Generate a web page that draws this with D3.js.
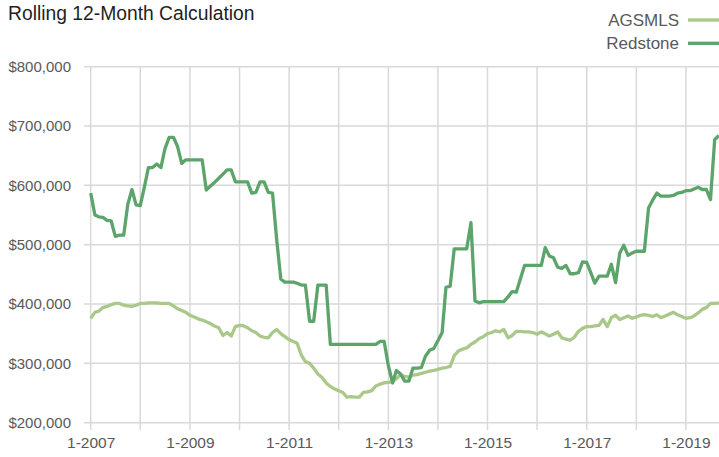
<!DOCTYPE html>
<html>
<head>
<meta charset="utf-8">
<script src="https://cdn.jsdelivr.net/npm/d3@7"></script>
<style>
  body { margin: 0; background: #fff; }
  svg { display: block; font-family: "Liberation Sans", Arial, sans-serif; }
  .grid line { stroke: #d9d9d9; stroke-width: 1.5; }
  .axis text { fill: #595959; font-size: 15px; }
  .x.axis text { font-size: 15.5px; }
</style>
</head>
<body>
<svg width="719" height="457"></svg>
<script>
// monthly values, Jan 2007 .. Sep 2019, in $ thousands
var firstMonth = new Date(2007, 0, 1);
var seriesNames = ["AGSMLS", "Redstone"];
var seriesColors = ["#a9c88a", "#5ca46a"];

var agsmls = [
  376, 386, 388, 394, 396, 399, 401, 401, 398, 397,
  396, 398, 401, 401, 402, 402, 402, 401, 401, 401,
  397, 392, 389, 386, 381, 378, 375, 373, 370, 367,
  363, 360, 347, 352, 346, 362, 364, 363, 360, 355,
  352, 346, 344, 343, 352, 357, 350, 345, 340, 337,
  334, 314, 303, 300, 292, 282, 276, 267, 261, 257,
  254, 251, 243, 244, 243, 243, 251, 252, 254, 262,
  265, 267, 268, 269, 274, 281, 278, 277, 280, 281,
  283, 285, 287, 288, 290, 292, 293, 295, 313, 321,
  324, 326, 332, 336, 342, 345, 350, 352, 355, 353,
  357, 343, 347, 354, 354, 353, 353, 352, 349, 353,
  350, 346, 349, 353, 343, 341, 339, 344, 354, 359,
  362, 362, 363, 364, 374, 362, 377, 381, 374, 377,
  380, 376, 378, 381, 382, 381, 379, 382, 377, 380,
  383, 386, 382, 379, 376, 377, 380, 385, 391, 394,
  401, 401, 402
];

var redstone = [
  587, 550, 547, 546, 541, 540, 514, 516, 516, 568,
  593, 567, 566, 598, 630, 630, 636, 630, 662, 681,
  681, 666, 637, 643, 643, 643, 643, 643, 592, 599,
  605, 612, 619, 626, 626, 606, 606, 606, 606, 587,
  588, 606, 606, 588, 587, 510, 442, 437, 437, 437,
  435, 432, 432, 371, 371, 432, 432, 432, 332, 332,
  332, 332, 332, 332, 332, 332, 332, 332, 332, 332,
  337, 337, 296, 267, 288, 282, 270, 270, 292, 292,
  293, 312, 322, 325, 338, 352, 428, 430, 493, 493,
  493, 493, 537, 405, 402, 404, 404, 404, 404, 404,
  404, 412, 421, 420, 443, 465, 465, 465, 465, 465,
  495, 481, 478, 462, 460, 465, 451, 451, 453, 471,
  470, 452, 435, 447, 447, 447, 467, 436, 486, 499,
  482, 486, 489, 489, 489, 562, 575, 587, 582, 582,
  582, 583, 587, 588, 591, 591, 594, 597, 593, 593,
  576, 677, 684
];

var yTicks = [200000, 300000, 400000, 500000, 600000, 700000, 800000];
var labelYears = [2007, 2009, 2011, 2013, 2015, 2017, 2019];

var svg = d3.select("svg");

var x = d3.scaleTime()
    .domain([firstMonth, d3.timeMonth.offset(firstMonth, agsmls.length - 1)])
    .range([90.7, 718.9]);
var y = d3.scaleLinear().domain([200000, 800000]).range([422.7, 66.7]);

var yearTicks = d3.timeYear.range(new Date(2007, 0, 1), new Date(2019, 1, 1));

// grid
var grid = svg.append("g").attr("class", "grid");
grid.selectAll(".h").data(yTicks).enter().append("line")
    .attr("x1", 84).attr("x2", 719)
    .attr("y1", function(d) { return y(d); })
    .attr("y2", function(d) { return y(d); });
grid.selectAll(".v").data(yearTicks).enter().append("line")
    .attr("x1", function(d) { return x(d); })
    .attr("x2", function(d) { return x(d); })
    .attr("y1", y(800000)).attr("y2", 430);

// axes labels
var yAxis = d3.axisLeft(y).tickValues(yTicks).tickSize(0).tickPadding(0)
    .tickFormat(function(d) { return "$" + d3.format(",")(d); });
svg.append("g").attr("class", "y axis").attr("transform", "translate(71,0)")
    .call(yAxis).call(function(g) { g.select(".domain").remove(); });

var xAxis = d3.axisBottom(x)
    .tickValues(labelYears.map(function(yr) { return new Date(yr, 0, 1); }))
    .tickSize(0).tickPadding(0)
    .tickFormat(function(d) { return "1-" + d.getFullYear(); });
svg.append("g").attr("class", "x axis").attr("transform", "translate(0,437)")
    .call(xAxis).call(function(g) { g.select(".domain").remove(); });

// lines
var line = d3.line()
    .x(function(d, i) { return x(d3.timeMonth.offset(firstMonth, i)); })
    .y(function(d) { return y(d * 1000); });

[agsmls, redstone].forEach(function(s, k) {
  svg.append("path").datum(s)
      .attr("fill", "none")
      .attr("stroke", seriesColors[k])
      .attr("stroke-width", 3.3)
      .attr("stroke-linejoin", "round")
      .attr("d", line);
});

// title
svg.append("text").attr("x", 8).attr("y", 19.5)
    .style("font-size", "19.3px").style("fill", "#1f1f1f")
    .text("Rolling 12-Month Calculation");

// legend
var legend = svg.selectAll(".legend").data(seriesNames).enter().append("g")
    .attr("transform", function(d, i) { return "translate(0," + (20 + i * 23.3) + ")"; });
legend.append("text").attr("x", 679).attr("y", 6)
    .attr("text-anchor", "end")
    .style("font-size", "17px").style("fill", "#595959")
    .text(function(d) { return d; });
legend.append("line").attr("x1", 688).attr("x2", 719)
    .attr("stroke", function(d, i) { return seriesColors[i]; })
    .attr("stroke-width", 3.3);
</script>
</body>
</html>
